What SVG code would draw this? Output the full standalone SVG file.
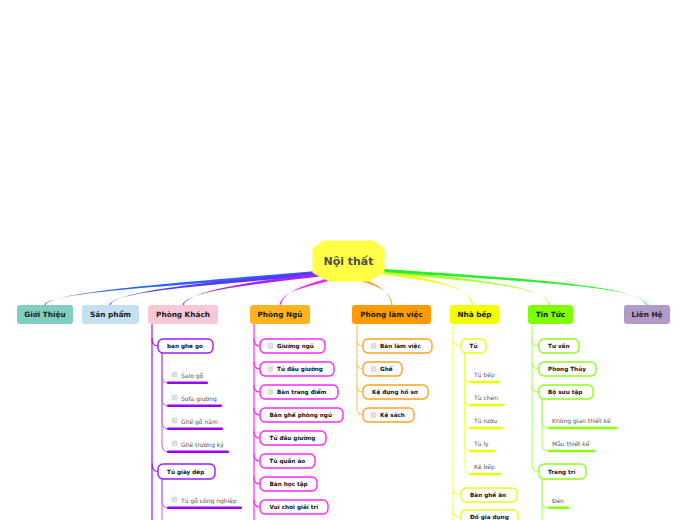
<svg xmlns="http://www.w3.org/2000/svg" width="696" height="520" viewBox="0 0 696 520">
<style>
text{font-family:"DejaVu Sans","Liberation Sans",sans-serif}
.cat{font-size:7.3px;font-weight:bold;fill:#1a1a1a;text-anchor:middle}
.lbl{font-size:5.7px;font-weight:bold;fill:#111}
.leaf{font-size:6px;fill:#555}
.cb{fill:#e2e2e2;stroke:#cfcfcf;stroke-width:0.6}
.ln{fill:none;stroke-width:1.2}
.box{fill:#fff;stroke-width:1.4}
.pk{stroke:#9b1cff}.pk2{stroke:#c47cff}
.pn{stroke:#ff28ff}
.lv{stroke:#ffc878}.lvb{stroke:#ffa31a}
.nb{stroke:#f2ff5a}.nbb{stroke:#eaff10}
.tt{stroke:#b4ff6a}.ttb{stroke:#8cff1a}
</style>
<rect width="696" height="520" fill="#fff"/>
<g id="connectors">
  <!-- main tapered connectors -->
  <path fill="#2a63ff" d="M325,270.2 C200,281.2 50.6,291 45.6,305 L44.4,305 C49.4,291 200,284.8 325,273.8 Z"/>
  <path fill="#5a34ff" d="M325,271.2 C220,281.2 115.6,290 110.6,305 L109.4,305 C114.4,290 220,284.8 325,274.8 Z"/>
  <path fill="#a624ff" d="M326,272.2 C260,280.2 187.6,290 183.6,305 L182.4,305 C186.4,290 260,283.8 326,275.8 Z"/>
  <path fill="#ff22f0" d="M334,276.4 C310,283.4 283.6,290 280.6,305 L279.4,305 C282.4,290 310,286.6 334,279.6 Z"/>
  <path fill="#ffa030" d="M357,276.6 C372,282.6 389.4,288 391.4,305 L392.6,305 C390.6,288 372,285.4 357,279.4 Z"/>
  <path fill="#eef82a" d="M378,270.2 C430,278.2 469.4,285 472.4,305 L473.6,305 C470.6,285 430,281.8 378,273.8 Z"/>
  <path fill="#aaff2a" d="M378,269.4 C470,278.4 544.4,285 549.4,305 L550.6,305 C545.6,285 470,281.6 378,272.6 Z"/>
  <path fill="#28ee28" d="M378,268.4 C520,278.4 639.4,285 646.4,305 L647.6,305 C640.6,285 520,281.6 378,271.6 Z"/>

  <!-- Phong Khach -->
  <path class="ln pk" d="M152,324 V520"/>
  <path class="ln pk" d="M152,338 Q152,346 158,346"/>
  <path class="ln pk" d="M152,463 Q152,471.5 158,471.5"/>
  <path class="ln pk2" d="M162,353 V375 Q162,383 168,383"/>
  <path class="ln pk2" d="M162,353 V398 Q162,406 168,406"/>
  <path class="ln pk2" d="M162,353 V421 Q162,429 168,429"/>
  <path class="ln pk2" d="M162,353 V444 Q162,452 168,452"/>
  <path class="ln pk2" d="M162,479 V520"/>
  <path class="ln pk2" d="M162,479 V500 Q162,508 168,508"/>

  <!-- Phong Ngu -->
  <path class="ln pn" d="M254,324 V520"/>
  <path class="ln pn" d="M254,339 Q254,346 260,346"/>
  <path class="ln pn" d="M254,362 Q254,369 260,369"/>
  <path class="ln pn" d="M254,385 Q254,392 260,392"/>
  <path class="ln pn" d="M254,408 Q254,415 260,415"/>
  <path class="ln pn" d="M254,431 Q254,438 260,438"/>
  <path class="ln pn" d="M254,454 Q254,461 260,461"/>
  <path class="ln pn" d="M254,477 Q254,484 260,484"/>
  <path class="ln pn" d="M254,500 Q254,507 260,507"/>

  <!-- Phong lam viec -->
  <path class="ln lv" d="M357,324 V408 Q357,415 363,415"/>
  <path class="ln lv" d="M357,339 Q357,346 363,346"/>
  <path class="ln lv" d="M357,362 Q357,369 363,369"/>
  <path class="ln lv" d="M357,385 Q357,392 363,392"/>

  <!-- Nha bep -->
  <path class="ln nb" d="M453,324 V520"/>
  <path class="ln nb" d="M453,339 Q453,346 461,346"/>
  <path class="ln nb" d="M453,488 Q453,495 461,495"/>
  <path class="ln nb" d="M453,510 Q453,517 461,517"/>
  <path class="ln nb" d="M465,353 V375 Q465,382 470,382"/>
  <path class="ln nb" d="M465,353 V398 Q465,405 470,405"/>
  <path class="ln nb" d="M465,353 V421 Q465,428 470,428"/>
  <path class="ln nb" d="M465,353 V444 Q465,451 470,451"/>
  <path class="ln nb" d="M465,353 V467 Q465,474 470,474"/>

  <!-- Tin Tuc -->
  <path class="ln tt" d="M532,324 V464 Q532,471.5 539,471.5"/>
  <path class="ln tt" d="M532,339 Q532,346 539,346"/>
  <path class="ln tt" d="M532,362 Q532,369 539,369"/>
  <path class="ln tt" d="M532,385 Q532,392 539,392"/>
  <path class="ln tt" d="M542,399 V421 Q542,428 548,428"/>
  <path class="ln tt" d="M542,399 V444 Q542,451 548,451"/>
  <path class="ln tt" d="M542,479 V520"/>
  <path class="ln tt" d="M542,479 V501 Q542,508 548,508"/>
</g>

<g id="center">
  <path d="M324,242 L373,242 L383,249 L383,272 L368,280 L329,280 L314,272 L314,249 Z" fill="#ffff45" stroke="#ffff45" stroke-width="3" stroke-linejoin="round"/>
  <text x="348.5" y="265" style="font-size:11px;font-weight:bold;fill:#4d4d4d;text-anchor:middle">Nội thất</text>
</g>

<g id="gioi-thieu"><rect x="17" y="305" width="56" height="19" rx="3" fill="#80cec2"/><text class="cat" x="45" y="317">Giới Thiệu</text></g>
<g id="san-pham"><rect x="82" y="305" width="57" height="19" rx="3" fill="#c6e0f2"/><text class="cat" x="110.5" y="317">Sản phẩm</text></g>
<g id="phong-khach"><rect x="148" y="305" width="70" height="19" rx="3" fill="#f9c8d8"/><text class="cat" x="183" y="317">Phòng Khách</text></g>
<g id="phong-ngu"><rect x="250" y="305" width="60" height="19" rx="3" fill="#ffb41f"/><text class="cat" x="280" y="317">Phòng Ngủ</text></g>
<g id="phong-lam-viec"><rect x="352" y="305" width="79" height="19" rx="3" fill="#ff9a00"/><text class="cat" x="391.5" y="317">Phòng làm việc</text></g>
<g id="nha-bep"><rect x="450" y="305" width="49" height="19" rx="3" fill="#f3ff00"/><text class="cat" x="474.5" y="317">Nhà bếp</text></g>
<g id="tin-tuc"><rect x="528" y="305" width="45" height="19" rx="3" fill="#7fff00"/><text class="cat" x="550.5" y="317">Tin Tức</text></g>
<g id="lien-he"><rect x="624" y="305" width="46" height="19" rx="3" fill="#b39bc9"/><text class="cat" x="647" y="317">Liên Hệ</text></g>

<!-- Phong Khach children -->
<g id="ban-ghe-go"><rect class="box pk" x="158" y="339" width="55" height="14" rx="5"/><text class="lbl" x="167" y="348">ban ghe go</text></g>
<g id="salo-go"><rect class="cb" x="172" y="372" width="5" height="5" rx="1"/><text class="leaf" x="181" y="377.5">Salo gỗ</text><rect x="167" y="381.5" width="41" height="2.6" rx="1" fill="#9a00f5"/></g>
<g id="sofa-giuong"><rect class="cb" x="172" y="395" width="5" height="5" rx="1"/><text class="leaf" x="181" y="400.5">Sofa giường</text><rect x="167" y="404.5" width="55" height="2.6" rx="1" fill="#9a00f5"/></g>
<g id="ghe-go-nam"><rect class="cb" x="172" y="418" width="5" height="5" rx="1"/><text class="leaf" x="181" y="423.5">Ghế gỗ nằm</text><rect x="167" y="427.5" width="56" height="2.6" rx="1" fill="#9a00f5"/></g>
<g id="ghe-truong-ky"><rect class="cb" x="172" y="441" width="5" height="5" rx="1"/><text class="leaf" x="181" y="446.5">Ghế trường kỷ</text><rect x="167" y="450.5" width="62" height="2.6" rx="1" fill="#9a00f5"/></g>
<g id="tu-giay-dep"><rect class="box pk" x="158" y="464" width="57" height="15" rx="5"/><text class="lbl" x="167" y="473.5">Tủ giày dép</text></g>
<g id="tu-go-cong-nghiep"><rect class="cb" x="172" y="497" width="5" height="5" rx="1"/><text class="leaf" x="181" y="502.5">Tủ gỗ công nghiệp</text><rect x="167" y="506.5" width="75" height="2.6" rx="1" fill="#9a00f5"/></g>

<!-- Phong Ngu children -->
<g id="giuong-ngu"><rect class="box pn" x="260" y="339" width="65" height="14" rx="5"/><rect class="cb" x="268" y="343.5" width="5" height="5" rx="1"/><text class="lbl" x="277" y="348">Giường ngủ</text></g>
<g id="tu-dau-giuong-1"><rect class="box pn" x="260" y="362" width="74" height="14" rx="5"/><rect class="cb" x="268" y="366.5" width="5" height="5" rx="1"/><text class="lbl" x="277" y="371">Tủ đầu giường</text></g>
<g id="ban-trang-diem"><rect class="box pn" x="260" y="385" width="78" height="14" rx="5"/><rect class="cb" x="268" y="389.5" width="5" height="5" rx="1"/><text class="lbl" x="277" y="394">Bàn trang điểm</text></g>
<g id="ban-ghe-phong-ngu"><rect class="box pn" x="260" y="408" width="83" height="14" rx="5"/><text class="lbl" x="269.5" y="417">Bàn ghế phòng ngủ</text></g>
<g id="tu-dau-giuong-2"><rect class="box pn" x="260" y="431" width="66" height="14" rx="5"/><text class="lbl" x="269.5" y="440">Tủ đầu giường</text></g>
<g id="tu-quan-ao"><rect class="box pn" x="260" y="454" width="55" height="14" rx="5"/><text class="lbl" x="269.5" y="463">Tủ quần áo</text></g>
<g id="ban-hoc-tap"><rect class="box pn" x="260" y="477" width="57" height="14" rx="5"/><text class="lbl" x="269.5" y="486">Bàn học tập</text></g>
<g id="vui-choi-giai-tri"><rect class="box pn" x="260" y="500" width="68" height="14" rx="5"/><text class="lbl" x="269.5" y="509">Vui chơi giải trí</text></g>

<!-- Phong lam viec children -->
<g id="ban-lam-viec"><rect class="box lvb" x="363" y="339" width="69" height="14" rx="5"/><rect class="cb" x="371" y="343.5" width="5" height="5" rx="1"/><text class="lbl" x="380" y="348">Bàn làm việc</text></g>
<g id="ghe"><rect class="box lvb" x="363" y="362" width="39" height="14" rx="5"/><rect class="cb" x="371" y="366.5" width="5" height="5" rx="1"/><text class="lbl" x="380" y="371">Ghế</text></g>
<g id="ke-dung-ho-so"><rect class="box lvb" x="363" y="385" width="65" height="14" rx="5"/><text class="lbl" x="372" y="394">Kệ đựng hồ sơ</text></g>
<g id="ke-sach"><rect class="box lvb" x="363" y="408" width="51" height="14" rx="5"/><rect class="cb" x="371" y="412.5" width="5" height="5" rx="1"/><text class="lbl" x="380" y="417">Kệ sách</text></g>

<!-- Nha bep children -->
<g id="tu"><rect class="box nbb" x="461" y="339" width="25" height="14" rx="5"/><text class="lbl" x="473.5" y="348" text-anchor="middle">Tủ</text></g>
<g id="tu-bep"><text class="leaf" x="474" y="377">Tủ bếp</text><rect x="469" y="380.7" width="31" height="2.6" rx="1" fill="#eaff00"/></g>
<g id="tu-chen"><text class="leaf" x="474" y="400">Tủ chén</text><rect x="469" y="403.7" width="35" height="2.6" rx="1" fill="#eaff00"/></g>
<g id="tu-ruou"><text class="leaf" x="474" y="423">Tủ rượu</text><rect x="469" y="426.7" width="34" height="2.6" rx="1" fill="#eaff00"/></g>
<g id="tu-ly"><text class="leaf" x="474" y="446">Tủ ly</text><rect x="469" y="449.7" width="26" height="2.6" rx="1" fill="#eaff00"/></g>
<g id="ke-bep"><text class="leaf" x="474" y="469">Kệ bếp</text><rect x="469" y="472.7" width="32" height="2.6" rx="1" fill="#eaff00"/></g>
<g id="ban-ghe-an"><rect class="box nbb" x="461" y="488" width="56" height="14" rx="5"/><text class="lbl" x="470" y="497">Bàn ghế ăn</text></g>
<g id="do-gia-dung"><rect class="box nbb" x="461" y="510" width="57" height="14" rx="5"/><text class="lbl" x="470" y="519">Đồ gia dụng</text></g>

<!-- Tin Tuc children -->
<g id="tu-van"><rect class="box ttb" x="539" y="339" width="40" height="14" rx="5"/><text class="lbl" x="548" y="348">Tư vấn</text></g>
<g id="phong-thuy"><rect class="box ttb" x="539" y="362" width="57" height="14" rx="5"/><text class="lbl" x="548" y="371">Phong Thủy</text></g>
<g id="bo-suu-tap"><rect class="box ttb" x="539" y="385" width="54" height="14" rx="5"/><text class="lbl" x="548" y="394">Bộ sưu tập</text></g>
<g id="khong-gian-thiet-ke"><text class="leaf" x="552" y="423">Không gian thiết kế</text><rect x="548" y="426.7" width="69" height="2.6" rx="1" fill="#86ff00"/></g>
<g id="mau-thiet-ke"><text class="leaf" x="552" y="446">Mẫu thiết kế</text><rect x="548" y="449.7" width="47" height="2.6" rx="1" fill="#86ff00"/></g>
<g id="trang-tri"><rect class="box ttb" x="539" y="464" width="47" height="15" rx="5"/><text class="lbl" x="548" y="473.5">Trang trí</text></g>
<g id="den"><text class="leaf" x="552" y="502.5">Đèn</text><rect x="548" y="506.5" width="21" height="2.6" rx="1" fill="#86ff00"/></g>
</svg>
